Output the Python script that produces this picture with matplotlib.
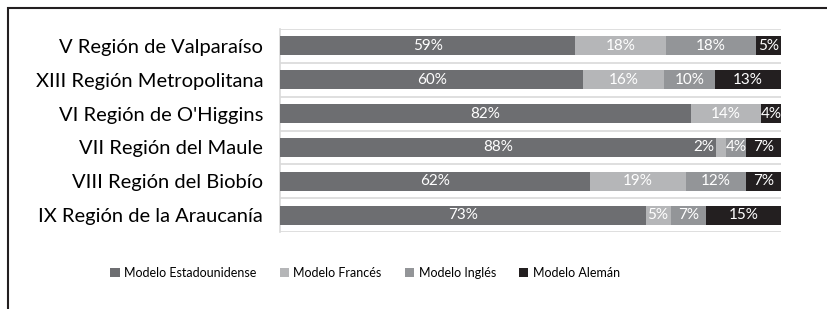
import matplotlib
matplotlib.use("Agg")
import matplotlib.pyplot as plt
from matplotlib.patches import Rectangle
import numpy as np

plt.rcParams['font.family'] = ['Lato', 'DejaVu Sans']

categories = ["V Región de Valparaíso", "XIII Región Metropolitana", "VI Región de O'Higgins",
              "VII Región del Maule", "VIII Región del Biobío", "IX Región de la Araucanía"]
series_names = ["Modelo Estadounidense", "Modelo Francés", "Modelo Inglés", "Modelo Alemán"]
estadounidense = [59, 60, 82, 88, 62, 73]
frances = [18, 16, 14, 2, 19, 5]
ingles = [18, 10, 0, 4, 12, 7]
aleman = [5, 13, 4, 7, 7, 15]
colors = ["#6d6e71", "#b5b6b8", "#939598", "#231f20"]

data = np.array([estadounidense, frances, ingles, aleman], dtype=float)
totals = data.sum(axis=0)
norm = data / totals * 100

fig = plt.figure(figsize=(8.28, 3.09), dpi=100)
ax = fig.add_axes([0.338, 0.249, 0.605, 0.657])

y = np.arange(len(categories))
left = np.zeros(len(categories))
for i, name in enumerate(series_names):
    ax.barh(y, norm[i], left=left, height=0.56, color=colors[i], label=name, zorder=3)
    for j in range(len(categories)):
        v = data[i, j]
        if v <= 0:
            continue
        if v < 3:
            ax.text(left[j] - 0.4, y[j], f"{int(v)}%", ha='right', va='center',
                    color='white', fontsize=11, zorder=4)
        else:
            ax.text(left[j] + norm[i, j] / 2, y[j], f"{int(v)}%", ha='center', va='center',
                    color='white', fontsize=11, zorder=4)
    left += norm[i]

ax.set_xlim(0, 100)
ax.set_ylim(len(categories) - 0.5, -0.5)
for b in np.arange(-0.5, len(categories), 1):
    ax.axhline(b, color='#d9d9d9', lw=1.2, zorder=1)
ax.set_yticks(y)
ax.set_yticklabels(categories, fontsize=14.5)
ax.tick_params(axis='y', length=0, pad=12)
ax.set_xticks([])
for s in ['top', 'right', 'bottom']:
    ax.spines[s].set_visible(False)
ax.spines['left'].set_color('#d9d9d9')
ax.spines['left'].set_linewidth(1.2)

leg = fig.legend(loc='center', bbox_to_anchor=(0.441, 0.117), ncol=4, frameon=False,
                 fontsize=9, handlelength=0.75, handleheight=0.75, handletextpad=0.35,
                 columnspacing=1.85)

fig.patches.append(Rectangle((8 / 828, -0.1), 1.2, 1.1 - 8.5 / 309, transform=fig.transFigure,
                             fill=False, edgecolor='#231f20', lw=1.5))

fig.savefig("out.png", dpi=100)
